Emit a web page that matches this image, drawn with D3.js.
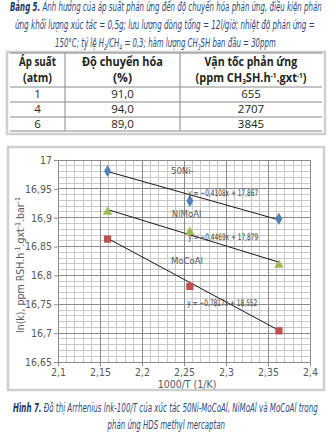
<!DOCTYPE html>
<html><head><meta charset="utf-8">
<script src="https://cdn.jsdelivr.net/npm/d3@7"></script>
<style>
body{margin:0;background:#fff;}
svg{display:block;}
</style></head>
<body>
<svg id="c" width="329" height="435"></svg>
<script>
// ---------- DATA ----------
const pressures = [1, 4, 6];
const conversions = [91.0, 94.0, 89.0];
const rates = [655, 2707, 3845];

const xValues = [2.159, 2.257, 2.363];           // 1000/T (1/K)
const series = ["50Ni-MoCoAl", "NiMoAl", "MoCoAl"];
const seriesLabels = ["50Ni-", "NiMoAl", "MoCoAl"];
const lnk50Ni = [16.981, 16.929, 16.898];
const lnkNiMoAl = [16.910, 16.875, 16.818];
const lnkMoCoAl = [16.863, 16.781, 16.704];
const slopes = [-0.4108, -0.4469, -0.7817];
const intercepts = [17.867, 17.879, 18.552];
const xTicks = [2.1, 2.15, 2.2, 2.25, 2.3, 2.35, 2.4];
const yTicks = [16.65, 16.7, 16.75, 16.8, 16.85, 16.9, 16.95, 17];

const allY = [lnk50Ni, lnkNiMoAl, lnkMoCoAl];
const colors = ["#4f81bd", "#9bbb59", "#c0504d"];
const symbols = [d3.symbolDiamond, d3.symbolTriangle, d3.symbolSquare];
const symSizes = [42, 40, 52];

const svg = d3.select("#c");
const loc = d3.formatLocale({decimal: ",", thousands: ".", grouping: [3], currency: ["", ""]});
const fmtTick = loc.format(".2~f");
const fmt1 = loc.format(".1f");

const CF = "'Liberation Sans Narrow','DejaVu Sans Condensed','Roboto Condensed','Liberation Sans',sans-serif";
const SF = "'Open Sans','Noto Sans','Liberation Sans',sans-serif";

function fitX(sel, x0, x1, y) {
  const bb = sel.node().getBBox();
  const s = (x1 - x0) / bb.width;
  sel.attr("x", 0).attr("y", 0).attr("text-anchor", "start")
     .attr("transform", `translate(${x0 - bb.x * s},${y}) scale(${s},1)`);
}

// ---------- TITLE ----------
const titleBold = "#1a3362", titleCol = "#2a4a7f";
const tLines = [
  {b: "Bảng 5.", t: " Ảnh hưởng của áp suất phản ứng đến độ chuyển hóa phản ứng, điều kiện phản", x0: 10, x1: 322, y: 11},
  {t: "ứng khối lượng xúc tác = 0,5g; lưu lượng dòng tổng = 12l/giờ; nhiệt độ phản ứng =", x0: 15, x1: 315, y: 29},
];
tLines.forEach(L => {
  const t = svg.append("text").attr("font-family", CF).attr("font-style", "italic")
    .attr("font-size", 12.5).attr("fill", titleCol);
  if (L.b) t.append("tspan").attr("font-weight", "bold").attr("fill", titleBold).text(L.b);
  t.append("tspan").text(L.t);
  fitX(t, L.x0, L.x1, L.y);
});
{
  const t = svg.append("text").attr("font-family", CF).attr("font-style", "italic")
    .attr("font-size", 12.5).attr("fill", titleCol);
  const parts = [["150°C; tỷ lệ H", 0], ["2", 1], ["/CH", -1], ["4", 1], [" = 0,3; hàm lượng CH", -1], ["3", 1], ["SH ban đầu = 30ppm", -1]];
  parts.forEach(p => {
    const ts = t.append("tspan").text(p[0]);
    if (p[1] === 1) ts.attr("font-size", 8).attr("dy", 3);
    if (p[1] === -1) ts.attr("dy", -3);
  });
  t.select("tspan").attr("dy", null);
  fitX(t, 55, 276, 47);
}

// ---------- TABLE ----------
svg.append("rect").attr("x", 7).attr("y", 52).attr("width", 318).attr("height", 82)
  .attr("fill", "none").attr("stroke", "#cfcfcf").attr("stroke-width", 2.5);
const colX = [10, 65, 180, 322];
const rowY = [53, 87, 102, 117, 131];
const g = svg.append("g").attr("stroke", "#8a8a8a").attr("stroke-width", 1);
rowY.forEach(y => g.append("line").attr("x1", colX[0]).attr("x2", colX[3]).attr("y1", y).attr("y2", y));
[colX[1], colX[2]].forEach(x => g.append("line").attr("x1", x).attr("x2", x).attr("y1", rowY[0]).attr("y2", rowY[4]));

const headers = [
  [{t: "Áp suất", w: 37}, {t: "(atm)", w: 29}],
  [{t: "Độ chuyển hóa", w: 81}, {t: "(%)", w: 19}],
  [{t: "Vận tốc phản ứng", w: 93}, {t: "(ppm CH|3|SH.h|-1|.gxt|-1|)", w: 111}]
];
headers.forEach((h, ci) => {
  const cx = (colX[ci] + colX[ci + 1]) / 2;
  h.forEach((line, li) => {
    const t = svg.append("text").attr("font-family", SF).attr("font-weight", 700)
      .attr("font-size", 12).attr("fill", "#231f20");
    const segs = line.t.split("|");
    segs.forEach((s, si) => {
      const ts = t.append("tspan").text(s);
      if (si % 2 === 1) {
        ts.attr("font-size", 7);
        ts.attr("dy", s === "3" ? 2 : -4);
      } else if (si > 0) {
        ts.attr("dy", segs[si - 1] === "3" ? -2 : 4);
      }
    });
    fitX(t, cx - line.w / 2, cx + line.w / 2, li === 0 ? 66 : 82);
  });
});
const rowVals = pressures.map((p, i) => [String(p), fmt1(conversions[i]), String(rates[i])]);
rowVals.forEach((r, ri) => {
  r.forEach((v, ci) => {
    svg.append("text").attr("x", (colX[ci] + colX[ci + 1]) / 2)
      .attr("y", [98, 113, 128][ri]).attr("text-anchor", "middle")
      .attr("font-family", SF).attr("font-size", 11.5).attr("fill", "#231f20").text(v);
  });
});

// ---------- CHART ----------
svg.append("rect").attr("x", 8).attr("y", 147).attr("width", 316).attr("height", 243)
  .attr("fill", "#fff").attr("stroke", "#cfcfcf").attr("stroke-width", 2.5);

const x = d3.scaleLinear().domain([2.1, 2.4]).range([58, 310]);
const y = d3.scaleLinear().domain([16.65, 17]).range([362, 160]);

const grid = svg.append("g");
x.ticks(30).forEach(v => grid.append("line").attr("x1", x(v)).attr("x2", x(v)).attr("y1", y(17)).attr("y2", y(16.65))
  .attr("stroke", "#c9c9c9").attr("stroke-width", 1).attr("shape-rendering", "crispEdges"));
y.ticks(35).forEach(v => grid.append("line").attr("y1", y(v)).attr("y2", y(v)).attr("x1", x(2.1)).attr("x2", x(2.4))
  .attr("stroke", "#c9c9c9").attr("stroke-width", 1).attr("shape-rendering", "crispEdges"));
xTicks.forEach(v => grid.append("line").attr("x1", x(v)).attr("x2", x(v)).attr("y1", y(17)).attr("y2", y(16.65))
  .attr("stroke", "#8c8c8c").attr("stroke-width", 1).attr("shape-rendering", "crispEdges"));
yTicks.forEach(v => grid.append("line").attr("y1", y(v)).attr("y2", y(v)).attr("x1", x(2.1)).attr("x2", x(2.4))
  .attr("stroke", "#8c8c8c").attr("stroke-width", 1).attr("shape-rendering", "crispEdges"));

const xAxis = svg.append("g").attr("transform", `translate(0,${y(16.65)})`)
  .call(d3.axisBottom(x).tickValues(xTicks).tickFormat(fmtTick).tickSize(4).tickPadding(3));
const yAxis = svg.append("g").attr("transform", `translate(${x(2.1)},0)`)
  .call(d3.axisLeft(y).tickValues(yTicks).tickFormat(fmtTick).tickSize(4).tickPadding(2));
[xAxis, yAxis].forEach(a => {
  a.select(".domain").attr("stroke", "#8c8c8c");
  a.selectAll(".tick line").attr("stroke", "#8c8c8c");
  a.selectAll("text").attr("font-family", CF).attr("font-size", 10.5).attr("fill", "#595959");
});

// trendlines
series.forEach((s, i) => {
  const xs = d3.extent(xValues);
  svg.append("line")
    .attr("x1", x(xs[0])).attr("y1", y(slopes[i] * xs[0] + intercepts[i]))
    .attr("x2", x(xs[1])).attr("y2", y(slopes[i] * xs[1] + intercepts[i]))
    .attr("stroke", "#1a1a1a").attr("stroke-width", 1);
});
// points
series.forEach((s, i) => {
  svg.append("g").selectAll("path").data(allY[i]).join("path")
    .attr("d", d3.symbol(symbols[i], symSizes[i]))
    .attr("transform", (d, j) => `translate(${x(xValues[j])},${y(d)})`)
    .attr("fill", colors[i]);
});
// series labels
const labPos = [[2.2345, 16.976], [2.2355, 16.9015], [2.2345, 16.8205]];
seriesLabels.forEach((l, i) => {
  svg.append("text").attr("x", x(labPos[i][0])).attr("y", y(labPos[i][1]))
    .attr("font-family", CF).attr("font-size", 9.5).attr("fill", "#595959").text(l);
});
// equations
const eqPos = [[2.2550, 16.937], [2.2550, 16.861], [2.2540, 16.747]];
series.forEach((s, i) => {
  const t = svg.append("text").attr("font-family", CF).attr("font-size", 9).attr("fill", "#404040")
    .text(`y = ${loc.format(".4f")(slopes[i])}x + ${loc.format(".3f")(intercepts[i])}`);
  fitX(t, x(eqPos[i][0]), x(eqPos[i][0]) + 70, y(eqPos[i][1]));
});

// axis titles
svg.append("text").attr("x", 187).attr("y", 388).attr("text-anchor", "middle")
  .attr("font-family", CF).attr("font-size", 10.5).attr("fill", "#595959").text("1000/T (1/K)");
{
  const t = svg.append("text").attr("transform", "translate(24,265) rotate(-90)").attr("text-anchor", "middle")
    .attr("font-family", CF).attr("font-size", 10.5).attr("fill", "#595959");
  const segs = [["ln(k), ppm RSH.h", 0], ["-1", 1], [".gxt", 0], ["-1", 1], [".bar", 0], ["-1", 1]];
  segs.forEach((p, k) => {
    const ts = t.append("tspan").text(p[0]);
    if (p[1]) ts.attr("font-size", 7).attr("dy", -4);
    else if (k > 0) ts.attr("dy", 4);
  });
}

// ---------- CAPTION ----------
{
  const t = svg.append("text").attr("font-family", CF).attr("font-style", "italic")
    .attr("font-size", 12.5).attr("fill", titleCol);
  t.append("tspan").attr("font-weight", "bold").attr("fill", titleBold).text("Hình 7.");
  t.append("tspan").text(" Đồ thị Arrhenius lnk-100/T của xúc tác 50Ni-MoCoAl, NiMoAl và MoCoAl trong");
  fitX(t, 13, 318, 412);
  const t2 = svg.append("text").attr("font-family", CF).attr("font-style", "italic")
    .attr("font-size", 12.5).attr("fill", titleCol).text("phản ứng HDS methyl mercaptan");
  fitX(t2, 107, 225, 429);
}
</script>
</body></html>
